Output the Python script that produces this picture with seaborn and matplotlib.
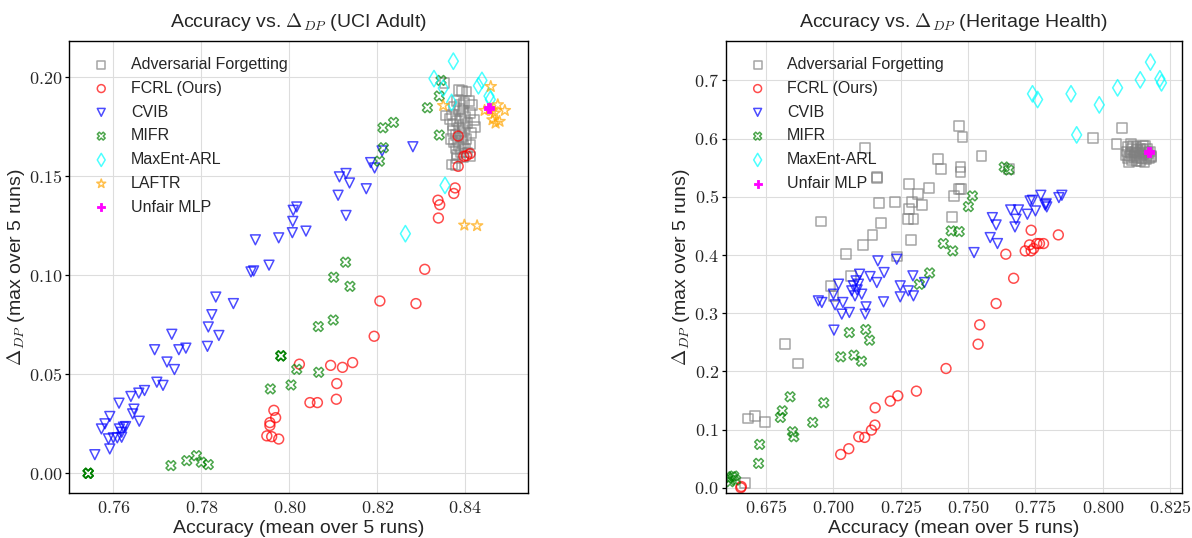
import matplotlib
matplotlib.use("Agg")
import matplotlib.pyplot as plt
import seaborn as sns
import pandas as pd
from matplotlib.ticker import FuncFormatter, MultipleLocator

# ---------------- UCI Adult ----------------
adult_af_x = [0.8353, 0.8385, 0.8392, 0.8403, 0.8408, 0.8356, 0.8370, 0.8420, 0.8422, 0.8413,
              0.8369, 0.8410, 0.8378, 0.8380, 0.8375, 0.8385, 0.8395, 0.8400, 0.8390, 0.8380,
              0.8372, 0.8385, 0.8395, 0.8405, 0.8398, 0.8388, 0.8378, 0.8392, 0.8402, 0.8383,
              0.8395, 0.8386, 0.8378, 0.8400, 0.8390, 0.8380, 0.8395, 0.8382, 0.8375, 0.8410,
              0.8365, 0.8415, 0.8388, 0.8398, 0.8372, 0.8412, 0.8405, 0.8368]
adult_af_y = [0.1970, 0.1936, 0.1930, 0.1928, 0.1878, 0.1807, 0.1812, 0.1785, 0.1750, 0.1718,
              0.1559, 0.1600, 0.1555, 0.1880, 0.1850, 0.1840, 0.1830, 0.1800, 0.1790, 0.1780,
              0.1760, 0.1745, 0.1760, 0.1770, 0.1730, 0.1720, 0.1710, 0.1700, 0.1690, 0.1680,
              0.1660, 0.1650, 0.1640, 0.1640, 0.1620, 0.1610, 0.1595, 0.1590, 0.1670, 0.1820,
              0.1790, 0.1860, 0.1860, 0.1870, 0.1730, 0.1660, 0.1620, 0.1690]

adult_fcrl_x = [0.7949, 0.7960, 0.7976, 0.7956, 0.7956, 0.7965, 0.7969, 0.8023, 0.8047, 0.8064,
                0.8094, 0.8121, 0.8144, 0.8108, 0.8107, 0.8193, 0.8206, 0.8288, 0.8308, 0.8339,
                0.8342, 0.8338, 0.8374, 0.8377, 0.8384, 0.8384, 0.8397, 0.8403, 0.8411]
adult_fcrl_y = [0.0189, 0.0185, 0.0173, 0.0256, 0.0241, 0.0318, 0.0281, 0.0551, 0.0357, 0.0357,
                0.0545, 0.0535, 0.0559, 0.0453, 0.0374, 0.0692, 0.0870, 0.0857, 0.1030, 0.1289,
                0.1356, 0.1379, 0.1413, 0.1441, 0.1550, 0.1703, 0.1601, 0.1604, 0.1614]

adult_cvib_x = [0.7558, 0.7573, 0.7581, 0.7592, 0.7592, 0.7613, 0.7589, 0.7600, 0.7609, 0.7619,
                0.7614, 0.7623, 0.7628, 0.7619, 0.7640, 0.7647, 0.7644, 0.7659, 0.7658, 0.7671,
                0.7699, 0.7713, 0.7694, 0.7722, 0.7739, 0.7733, 0.7749, 0.7765, 0.7814, 0.7816,
                0.7824, 0.7840, 0.7833, 0.7873, 0.7913, 0.7919, 0.7954, 0.7923, 0.7976, 0.8007,
                0.8008, 0.8009, 0.8017, 0.8038, 0.8111, 0.8129, 0.8114, 0.8129, 0.8137, 0.8175,
                0.8185, 0.8194, 0.8211, 0.8281]
adult_cvib_y = [0.0094, 0.0224, 0.0250, 0.0287, 0.0123, 0.0354, 0.0174, 0.0179, 0.0179, 0.0182,
                0.0224, 0.0233, 0.0236, 0.0207, 0.0388, 0.0324, 0.0300, 0.0263, 0.0405, 0.0418,
                0.0460, 0.0444, 0.0624, 0.0562, 0.0524, 0.0702, 0.0624, 0.0632, 0.0641, 0.0739,
                0.0801, 0.0696, 0.0890, 0.0857, 0.1017, 0.1022, 0.1051, 0.1179, 0.1189, 0.1215,
                0.1272, 0.1328, 0.1345, 0.1223, 0.1404, 0.1302, 0.1497, 0.1514, 0.1466, 0.1437,
                0.1569, 0.1542, 0.1628, 0.1649]

adult_mifr_x = [0.7543, 0.7543, 0.7543, 0.7543, 0.7731, 0.7767, 0.7789, 0.7800, 0.7816, 0.7957,
                0.7981, 0.7981, 0.7981, 0.8004, 0.8017, 0.8066, 0.8067, 0.8101, 0.8100, 0.8138,
                0.8128, 0.8205, 0.8214, 0.8213, 0.8237, 0.8314, 0.8341, 0.8341, 0.8345]
adult_mifr_y = [0.0000, 0.0000, 0.0000, 0.0000, 0.0039, 0.0064, 0.0089, 0.0056, 0.0044, 0.0426,
                0.0593, 0.0593, 0.0593, 0.0446, 0.0525, 0.0741, 0.0510, 0.0990, 0.0774, 0.0944,
                0.1066, 0.1576, 0.1644, 0.1745, 0.1772, 0.1846, 0.1708, 0.1905, 0.1984]

adult_maxent_x = [0.8373, 0.8329, 0.8350, 0.8369, 0.8430, 0.8438, 0.8454, 0.8457, 0.8354, 0.8264]
adult_maxent_y = [0.2081, 0.1993, 0.1945, 0.1873, 0.1957, 0.1984, 0.1905, 0.1888, 0.1454, 0.1210]

adult_laftr_x = [0.8350, 0.8458, 0.8474, 0.8490, 0.8444, 0.8462, 0.8467, 0.8462, 0.8469, 0.8478,
                 0.8398, 0.8427, 0.8455]
adult_laftr_y = [0.1857, 0.1953, 0.1861, 0.1832, 0.1832, 0.1832, 0.1819, 0.1785, 0.1768, 0.1777,
                 0.1253, 0.1250, 0.1840]

adult_mlp_x = [0.8453]
adult_mlp_y = [0.1846]

# ---------------- Heritage Health ----------------
health_af_x = [0.6953, 0.7047, 0.7109, 0.7145, 0.7176, 0.7168, 0.7229, 0.7235, 0.7118, 0.7163,
               0.7163, 0.7282, 0.7282, 0.7278, 0.7297, 0.7287, 0.7291, 0.7313, 0.7328, 0.7355,
               0.7387, 0.7398, 0.7439, 0.7449, 0.7467, 0.7479, 0.7472, 0.7472, 0.7467, 0.7474,
               0.7550, 0.7653, 0.7963, 0.8051, 0.8072, 0.6989, 0.7000, 0.7066, 0.6820, 0.6867,
               0.6682, 0.6708, 0.6747, 0.6673, 0.8105, 0.8156,
               0.8095, 0.8110, 0.8125, 0.8140, 0.8150, 0.8165, 0.8175, 0.8090, 0.8105, 0.8120,
               0.8135, 0.8150, 0.8165, 0.8178, 0.8100, 0.8115, 0.8130, 0.8145, 0.8160, 0.8172,
               0.8108, 0.8125, 0.8140, 0.8155, 0.8092, 0.8118, 0.8138, 0.8158, 0.8128, 0.8085,
               0.8170, 0.8098, 0.8148, 0.8112, 0.8180]
health_af_y = [0.4575, 0.4014, 0.4168, 0.4346, 0.4546, 0.4890, 0.4912, 0.3974, 0.5845, 0.5342,
               0.5330, 0.5216, 0.4786, 0.4615, 0.4615, 0.4254, 0.4918, 0.5044, 0.4861, 0.5147,
               0.5645, 0.5473, 0.4655, 0.5010, 0.6218, 0.6034, 0.5513, 0.5428, 0.5130, 0.5130,
               0.5702, 0.5485, 0.6007, 0.5910, 0.6180, 0.3463, 0.3291, 0.3635, 0.2467, 0.2135,
               0.1191, 0.1236, 0.1133, 0.0086, 0.5904, 0.5875,
               0.585, 0.582, 0.585, 0.583, 0.580, 0.582, 0.578, 0.578, 0.575, 0.577,
               0.575, 0.573, 0.572, 0.570, 0.570, 0.568, 0.567, 0.566, 0.565, 0.566,
               0.563, 0.562, 0.561, 0.560, 0.566, 0.572, 0.570, 0.577, 0.580, 0.572,
               0.575, 0.560, 0.587, 0.588, 0.568]

health_fcrl_x = [0.6656, 0.6658, 0.7027, 0.7057, 0.7094, 0.7116, 0.7141, 0.7154, 0.7155, 0.7211,
                 0.7239, 0.7308, 0.7418, 0.7537, 0.7543, 0.7604, 0.7669, 0.7640, 0.7712, 0.7728,
                 0.7734, 0.7743, 0.7755, 0.7765, 0.7780, 0.7734, 0.7835]
health_fcrl_y = [0.0000, 0.0020, 0.0572, 0.0670, 0.0876, 0.0864, 0.0990, 0.1076, 0.1374, 0.1488,
                 0.1580, 0.1660, 0.2049, 0.2467, 0.2800, 0.3166, 0.3600, 0.4014, 0.4071, 0.4174,
                 0.4071, 0.4111, 0.4197, 0.4197, 0.4197, 0.4426, 0.4346]

health_cvib_x = [0.7522, 0.7590, 0.7604, 0.7582, 0.7609, 0.7658, 0.7687, 0.7678, 0.7674, 0.7720,
                 0.7750, 0.7730, 0.7739, 0.7770, 0.7786, 0.7792, 0.7837, 0.7848, 0.7165, 0.7235,
                 0.7188, 0.7136, 0.7161, 0.7097, 0.7084, 0.7093, 0.7074, 0.7068, 0.7080, 0.7105,
                 0.7019, 0.7000, 0.7006, 0.7035, 0.7031, 0.7059, 0.6944, 0.6957, 0.7121, 0.7118,
                 0.7002, 0.7186, 0.7248, 0.7248, 0.7278, 0.7297, 0.7295, 0.7338, 0.7088, 0.7790]
health_cvib_y = [0.4042, 0.4643, 0.4517, 0.4300, 0.4197, 0.4775, 0.4775, 0.4615, 0.4483, 0.4701,
                 0.4758, 0.4930, 0.4941, 0.5027, 0.4861, 0.4827, 0.4987, 0.5027, 0.3899, 0.3928,
                 0.3699, 0.3630, 0.3527, 0.3670, 0.3556, 0.3499, 0.3470, 0.3384, 0.3298, 0.3327,
                 0.3499, 0.3327, 0.3144, 0.3184, 0.2984, 0.3012, 0.3212, 0.3184, 0.3109, 0.2984,
                 0.2709, 0.3195, 0.3470, 0.3281, 0.3384, 0.3298, 0.3642, 0.3527, 0.3400, 0.4880]

health_mifr_x = [0.6609, 0.6623, 0.6616, 0.6637, 0.6630, 0.6722, 0.6726, 0.6803, 0.6810, 0.6839,
                 0.6848, 0.6853, 0.6923, 0.6964, 0.7027, 0.7059, 0.7076, 0.7104, 0.7120, 0.7134,
                 0.7319, 0.7357, 0.7408, 0.7437, 0.7467, 0.7443, 0.7501, 0.7516, 0.7634, 0.7651]
health_mifr_y = [0.0160, 0.0189, 0.0103, 0.0132, 0.0200, 0.0418, 0.0744, 0.1208, 0.1322, 0.1563,
                 0.0962, 0.0876, 0.1122, 0.1460, 0.2250, 0.2667, 0.2278, 0.2175, 0.2719, 0.2536,
                 0.3497, 0.3692, 0.4197, 0.4414, 0.4403, 0.4071, 0.4832, 0.5016, 0.5513, 0.5462]

health_maxent_x = [0.8177, 0.7739, 0.7758, 0.7882, 0.7987, 0.8055, 0.8139, 0.8212, 0.8218, 0.7903]
health_maxent_y = [0.7316, 0.6771, 0.6673, 0.6771, 0.6581, 0.6874, 0.7011, 0.7029, 0.6960, 0.6065]

health_mlp_x = [0.8172]
health_mlp_y = [0.5775]

methods = ["Adversarial Forgetting", "FCRL (Ours)", "CVIB", "MIFR", "MaxEnt-ARL", "LAFTR", "Unfair MLP"]
colors = ["gray", "red", "blue", "green", "cyan", "orange", "magenta"]
markers = ["s", "o", "v", "X", "d", "*", "P"]

adult_series = [(adult_af_x, adult_af_y), (adult_fcrl_x, adult_fcrl_y), (adult_cvib_x, adult_cvib_y),
                (adult_mifr_x, adult_mifr_y), (adult_maxent_x, adult_maxent_y),
                (adult_laftr_x, adult_laftr_y), (adult_mlp_x, adult_mlp_y)]
health_series = [(health_af_x, health_af_y), (health_fcrl_x, health_fcrl_y), (health_cvib_x, health_cvib_y),
                 (health_mifr_x, health_mifr_y), (health_maxent_x, health_maxent_y),
                 None, (health_mlp_x, health_mlp_y)]

sns.set_style("whitegrid", {"axes.edgecolor": "black", "grid.color": "#dddddd"})
plt.rcParams["font.family"] = ["Liberation Sans", "DejaVu Sans"]
plt.rcParams["mathtext.fontset"] = "cm"

fig = plt.figure(figsize=(11.92, 5.38), dpi=100)
ax1 = fig.add_axes([69.3 / 1192, 45.3 / 538, 458.4 / 1192, 451.7 / 538])
ax2 = fig.add_axes([725.7 / 1192, 45.3 / 538, 456 / 1192, 451.7 / 538])


def draw(ax, series):
    for (name, col, mk, s) in zip(methods, colors, markers, series):
        if s is None:
            continue
        df = pd.DataFrame({"acc": s[0], "dp": s[1]})
        if mk == "P":
            sns.scatterplot(data=df, x="acc", y="dp", ax=ax, marker=mk, color=col,
                            edgecolor=col, s=55, label=name, zorder=3)
        else:
            sns.scatterplot(data=df, x="acc", y="dp", ax=ax, marker=mk, color=col,
                            facecolor="none", edgecolor=col, linewidth=1.1,
                            s=70 if mk in ("d", "*") else 50, alpha=0.7, label=name)
    ax.legend(loc="upper left", frameon=False, fontsize=11.5, markerscale=0.8,
              handletextpad=0.85, borderaxespad=0.6, labelspacing=0.55)
    ax.set_xlabel("Accuracy (mean over 5 runs)", fontsize=14, labelpad=2)
    ax.set_ylabel(r"$\Delta_{DP}$ (max over 5 runs)", fontsize=14, labelpad=1.5)
    for sp in ax.spines.values():
        sp.set_linewidth(1.0)
        sp.set_color("black")
    ax.tick_params(labelsize=13, pad=2)
    ax.tick_params(axis="y", left=True, length=3, width=0.9, color="black")


draw(ax1, adult_series)
ax1.set_xlim(0.7500, 0.8542)
ax1.set_ylim(-0.0098, 0.2183)
ax1.xaxis.set_major_locator(MultipleLocator(0.02))
ax1.yaxis.set_major_locator(MultipleLocator(0.05))
ax1.xaxis.set_major_formatter(FuncFormatter(lambda v, p: r"$%.2f$" % v))
ax1.yaxis.set_major_formatter(FuncFormatter(lambda v, p: r"$%.2f$" % v))
ax1.set_title(r"Accuracy vs. $\Delta_{DP}$ (UCI Adult)", fontsize=14, pad=10)

draw(ax2, health_series)
ax2.set_xlim(0.6600, 0.8293)
ax2.set_ylim(-0.0086, 0.7679)
ax2.xaxis.set_major_locator(MultipleLocator(0.025))
ax2.yaxis.set_major_locator(MultipleLocator(0.1))
ax2.xaxis.set_major_formatter(FuncFormatter(lambda v, p: r"$%.3f$" % v))
ax2.yaxis.set_major_formatter(FuncFormatter(lambda v, p: r"$%.1f$" % v))
ax2.set_title(r"Accuracy vs. $\Delta_{DP}$ (Heritage Health)", fontsize=14, pad=10)

fig.savefig("out.png", dpi=100)
